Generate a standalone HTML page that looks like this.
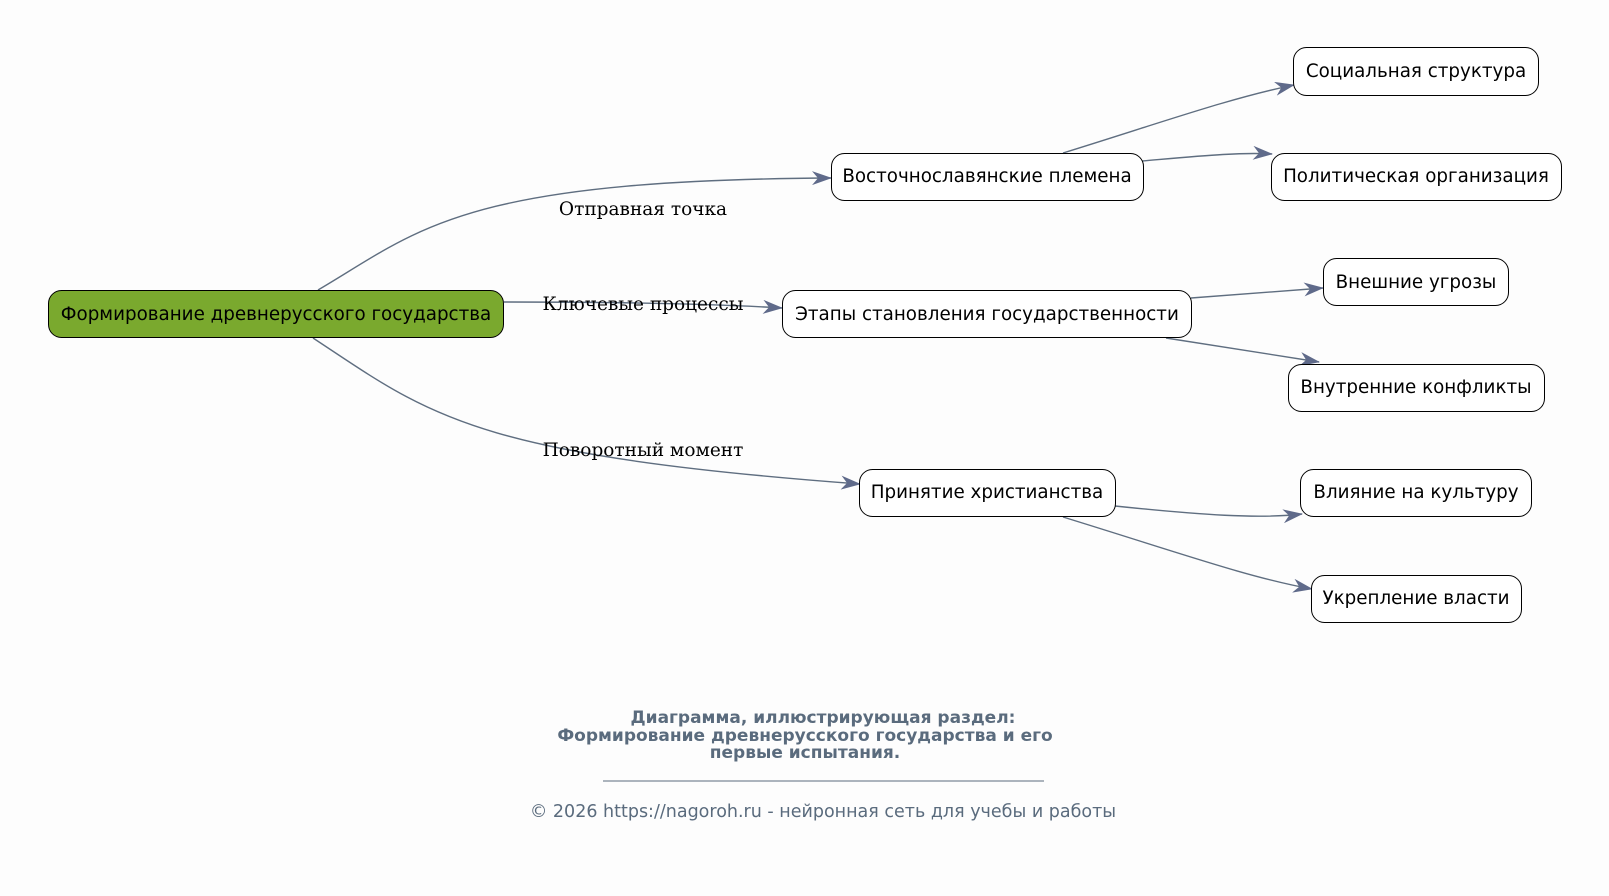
<!DOCTYPE html>
<html><head><meta charset="utf-8"><style>
html,body{margin:0;padding:0;background:#fdfdfd;}
svg{display:block}
.n{font-family:"DejaVu Sans","Liberation Sans",sans-serif;font-size:18.3px;fill:#000;text-anchor:middle;}
.l{font-family:"DejaVu Serif","Liberation Serif",serif;font-size:18.5px;fill:#000;text-anchor:middle;}
.e{fill:none;stroke:#5f6e80;stroke-width:1.4;}
</style></head><body>
<svg width="1609" height="896" xmlns="http://www.w3.org/2000/svg">
<defs><marker id="a" markerWidth="20" markerHeight="14" refX="19" refY="7" orient="auto" markerUnits="userSpaceOnUse">
<path d="M0,0 L20,7 L0,14 L6,7 Z" fill="#5f6a8a"/></marker></defs>
<rect width="1609" height="896" fill="#fdfdfd"/>
<path class="e" d="M318,290 C420,230 460,180 831,178" marker-end="url(#a)"/>
<path class="e" d="M504,302 C600,302 700,303 782,308" marker-end="url(#a)"/>
<path class="e" d="M313,338 C430,415 470,455 860,484" marker-end="url(#a)"/>
<path class="e" d="M1063,153 C1160,123 1230,98 1294,85" marker-end="url(#a)"/>
<path class="e" d="M1142,161 C1200,156 1240,152 1272,154" marker-end="url(#a)"/>
<path class="e" d="M1191,298 L1323,288" marker-end="url(#a)"/>
<path class="e" d="M1166,338 L1319,362" marker-end="url(#a)"/>
<path class="e" d="M1115,506 C1200,515 1260,519 1302,514" marker-end="url(#a)"/>
<path class="e" d="M1063,517 C1180,553 1250,578 1312,589" marker-end="url(#a)"/>
<rect x="48.5" y="290.5" width="455" height="47" rx="13" fill="#7aa92e" stroke="#000"/>
<text class="n" x="276" y="320">Формирование древнерусского государства</text>
<rect x="831.5" y="153.5" width="312" height="47" rx="13" fill="#fff" stroke="#000"/>
<text class="n" x="987" y="182">Восточнославянские племена</text>
<rect x="782.5" y="290.5" width="409" height="47" rx="13" fill="#fff" stroke="#000"/>
<text class="n" x="987" y="320">Этапы становления государственности</text>
<rect x="859.5" y="469.5" width="256" height="47" rx="13" fill="#fff" stroke="#000"/>
<text class="n" x="987" y="498">Принятие христианства</text>
<rect x="1293.5" y="47.5" width="245" height="48" rx="13" fill="#fff" stroke="#000"/>
<text class="n" x="1416" y="77">Социальная структура</text>
<rect x="1271.5" y="153.5" width="290" height="47" rx="13" fill="#fff" stroke="#000"/>
<text class="n" x="1416" y="182">Политическая организация</text>
<rect x="1323.5" y="258.5" width="185" height="47" rx="13" fill="#fff" stroke="#000"/>
<text class="n" x="1416" y="288">Внешние угрозы</text>
<rect x="1288.5" y="364.5" width="256" height="47" rx="13" fill="#fff" stroke="#000"/>
<text class="n" x="1416" y="393">Внутренние конфликты</text>
<rect x="1300.5" y="469.5" width="231" height="47" rx="13" fill="#fff" stroke="#000"/>
<text class="n" x="1416" y="498">Влияние на культуру</text>
<rect x="1311.5" y="575.5" width="210" height="47" rx="13" fill="#fff" stroke="#000"/>
<text class="n" x="1416" y="604">Укрепление власти</text>
<text class="l" x="643" y="215">Отправная точка</text>
<text class="l" x="643" y="310">Ключевые процессы</text>
<text class="l" x="643" y="456">Поворотный момент</text>
<g font-family="DejaVu Sans,Liberation Sans,sans-serif" font-weight="bold" font-size="17" fill="#5a6b7d" text-anchor="middle">
<text x="823" y="723">Диаграмма, иллюстрирующая раздел:</text>
<text x="805" y="741">Формирование древнерусского государства и его</text>
<text x="805" y="758">первые испытания.</text>
</g>
<line x1="603" y1="781" x2="1044" y2="781" stroke="#5a6b7d" stroke-width="1"/>
<text x="823" y="817" font-family="DejaVu Sans,Liberation Sans,sans-serif" font-size="17.5" fill="#5a6b7d" text-anchor="middle">© 2026 https://nagoroh.ru - нейронная сеть для учебы и работы</text>
</svg>
</body></html>
